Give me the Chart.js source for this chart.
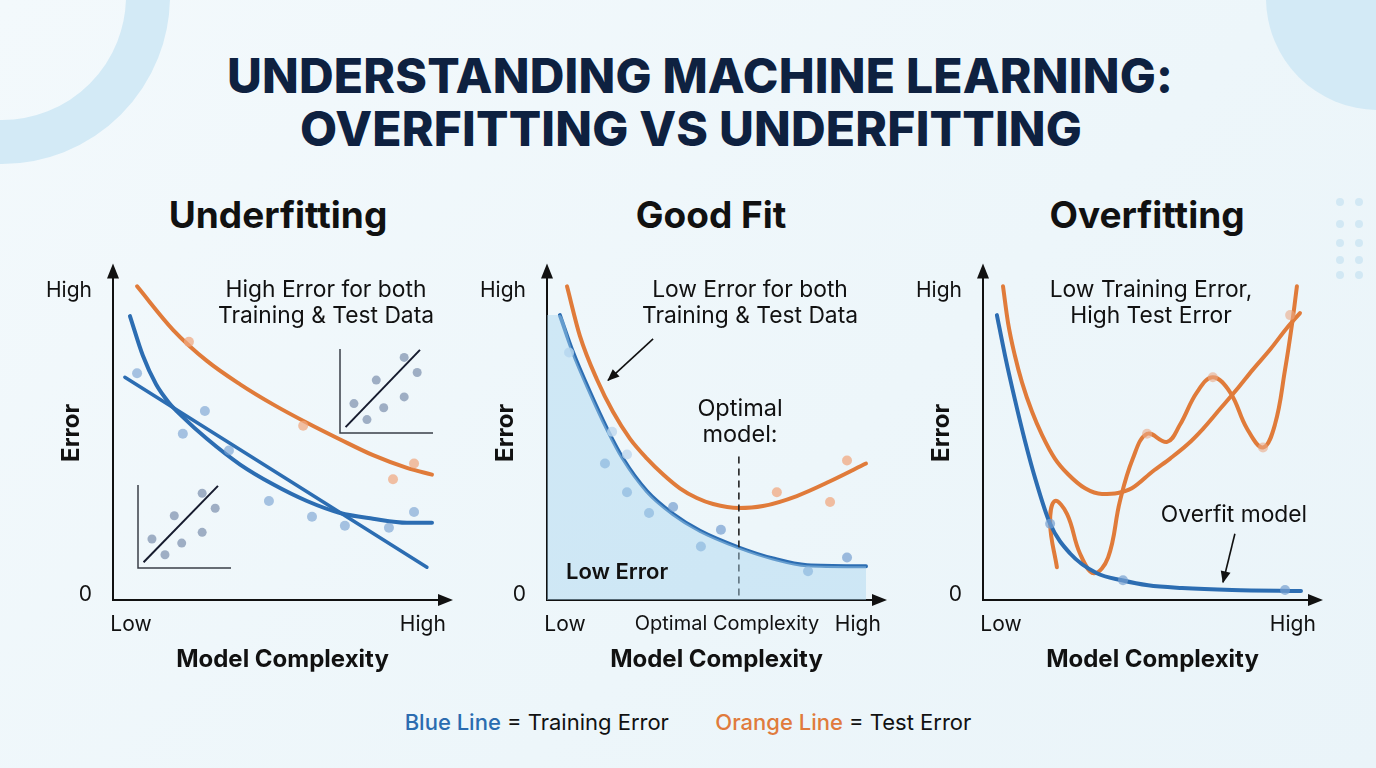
<!DOCTYPE html>
<html>
<head>
<meta charset="utf-8">
<script src="https://cdn.jsdelivr.net/npm/chart.js@4.4.1/dist/chart.umd.min.js"></script>
<style>
  html, body { margin:0; padding:0; }
  body { width:1376px; height:768px; position:relative; overflow:hidden;
         background: linear-gradient(135deg, #f3f9fc 0%, #edf6fa 60%, #eaf4f9 100%);
         font-family: Inter, "Noto Sans", sans-serif; color:#111; }
  .abs { position:absolute; }
  .t { position:absolute; transform:translate(-50%,-50%); white-space:nowrap; text-align:center; }
  .ring { position:absolute; left:-166px; top:-172px; width:336px; height:336px; border-radius:50%;
          border:44px solid #d3eaf6; box-sizing:border-box; }
  .blob { position:absolute; left:1266px; top:-114px; width:224px; height:224px; border-radius:50%; background:#d3eaf6; }
  .dot { position:absolute; width:8px; height:8px; border-radius:50%; background:#d2e8f4; }
  .head { font-weight:800; font-size:48px; color:#0e2140; letter-spacing:0.2px; }
  .ptitle { font-weight:700; font-size:37px; color:#111; }
  .ann { font-size:22.8px; line-height:26px; color:#111; }
  canvas { position:absolute; }
</style>
</head>
<body>
<div class="ring"></div>
<div class="blob"></div>
<div id="dots"></div>

<div class="t head" style="left:700px; top:75px;">UNDERSTANDING MACHINE LEARNING:</div>
<div class="t head" style="left:691px; top:128px;">OVERFITTING VS UNDERFITTING</div>

<div class="t ptitle" style="left:278px; top:214px;">Underfitting</div>
<div class="t ptitle" style="left:711px; top:214px;">Good Fit</div>
<div class="t ptitle" style="left:1147px; top:214px;">Overfitting</div>

<canvas id="c1" width="430" height="450" style="left:40px; top:240px;"></canvas>
<canvas id="c2" width="430" height="450" style="left:474px; top:240px;"></canvas>
<canvas id="c3" width="430" height="450" style="left:910px; top:240px;"></canvas>
<canvas id="i1" width="105" height="95" style="left:132px; top:479px;"></canvas>
<canvas id="i2" width="105" height="96" style="left:334px; top:343px;"></canvas>

<div class="t ann" style="left:326px; top:302px;">High Error for both<br>Training &amp; Test Data</div>
<div class="t ann" style="left:750px; top:302px;">Low Error for both<br>Training &amp; Test Data</div>
<div class="t ann" style="left:740px; top:421px; font-size:23.5px; line-height:26px;">Optimal<br>model:</div>
<div class="abs" style="left:566px; top:558px; font-size:22px; font-weight:600;">Low Error</div>
<div class="t ann" style="left:1151px; top:302px;">Low Training Error,<br>High Test Error</div>
<div class="t ann" style="left:1234px; top:514px;">Overfit model</div>

<div class="t" style="left:688px; top:722px; font-size:22px;">
  <span style="color:#2b6cb0; font-weight:500;">Blue Line</span> = Training Error
  <span style="display:inline-block; width:34px;"></span>
  <span style="color:#e07b3c; font-weight:500;">Orange Line</span> = Test Error
</div>

<script>
// ---------- shared axis ticks ----------
const yTickValues = [0.15, 9.26];
const yTickLabels = ['0', 'High'];
const xTickValues = [0.53, 9.14];
const xTickLabels = ['Low', 'High'];
const goodXTickValues = [0.53, 9.17, 5.31];
const goodXTickLabels = ['Low', 'High', 'Optimal Complexity'];

// ---------- Panel 1: Underfitting ----------
const underTestX  = [0.71, 1.77, 2.77, 3.75, 4.72, 5.72, 6.70, 7.67, 8.67, 9.41];
const underTestY  = [9.38, 8.08, 7.15, 6.45, 5.85, 5.30, 4.80, 4.33, 3.95, 3.75];
const underTrainX = [0.50, 0.88, 1.27, 1.65, 2.00, 2.77, 3.75, 4.72, 5.72, 6.70, 7.67, 8.67, 9.41];
const underTrainY = [8.49, 7.31, 6.45, 5.90, 5.53, 4.82, 4.05, 3.46, 2.96, 2.60, 2.43, 2.31, 2.31];
const underLinearX = [0.35, 9.26];
const underLinearY = [6.66, 0.98];
const underTrainDotsX = [0.71, 2.06, 2.71, 3.42, 4.60, 5.87, 6.84, 8.14, 8.88];
const underTrainDotsY = [6.78, 4.97, 5.65, 4.47, 2.96, 2.49, 2.22, 2.16, 2.63];
const underTestDotsX = [2.24, 5.61, 8.88, 8.26];
const underTestDotsY = [7.72, 5.21, 4.08, 3.61];

// ---------- Inset scatter plots ----------
const insetDotsX = [1.5, 2.9, 3.9, 4.7, 6.9, 6.9, 8.3];
const insetDotsY = [3.5, 1.6, 6.3, 3.0, 9.0, 4.3, 7.2];
const insetLineX = [0.6, 8.6];
const insetLineY = [0.7, 9.9];

// ---------- Panel 2: Good fit ----------
const goodTestX  = [0.59, 0.97, 1.47, 1.95, 2.45, 2.95, 3.42, 3.92, 4.42, 4.90, 5.66, 6.37, 7.37, 8.35, 9.41];
const goodTestY  = [9.38, 7.90, 6.60, 5.62, 4.82, 4.23, 3.76, 3.34, 3.05, 2.87, 2.75, 2.81, 3.11, 3.55, 4.08];
const goodTrainX = [0.38, 0.77, 1.27, 1.77, 2.24, 2.95, 3.72, 4.51, 5.66, 6.67, 7.67, 9.41];
const goodTrainY = [8.52, 7.40, 6.21, 5.12, 4.23, 3.25, 2.57, 2.07, 1.57, 1.24, 1.04, 1.01];
const goodTrainDotsX = [1.71, 2.36, 3.01, 3.72, 4.54, 5.13, 7.70, 8.85];
const goodTrainDotsY = [4.08, 3.22, 2.60, 2.78, 1.60, 2.10, 0.86, 1.27];
const goodFaintDotsX = [0.65, 1.92, 2.36];
const goodFaintDotsY = [7.40, 5.03, 4.35];
const goodTestDotsX = [6.78, 8.35, 8.85];
const goodTestDotsY = [3.22, 2.93, 4.17];
const optimalX = [5.66, 5.66];
const optimalY = [4.29, 0];
const goodArrowX = [3.13, 1.80];
const goodArrowY = [7.81, 6.57];

// ---------- Panel 3: Overfitting ----------
const overTrainX = [0.41, 0.65, 0.94, 1.24, 1.55, 1.98, 2.57, 3.36, 4.10, 4.87, 5.87, 7.35, 9.38];
const overTrainY = [8.52, 7.31, 6.00, 4.75, 3.60, 2.28, 1.39, 0.80, 0.59, 0.44, 0.36, 0.30, 0.27];
const overTestX = [0.59, 0.74, 0.94, 1.15, 1.45, 1.74, 2.12, 2.51, 3.01, 3.51, 3.98, 4.39, 5.01, 5.52, 6.02, 6.49, 6.99, 7.49, 7.96, 8.47, 8.97, 9.35];
const overTestY = [9.38, 8.28, 7.31, 6.51, 5.62, 4.94, 4.23, 3.76, 3.34, 3.17, 3.20, 3.34, 3.85, 4.23, 4.64, 5.12, 5.71, 6.30, 6.89, 7.49, 8.14, 8.58];
const overFitX = [2.18, 1.98, 2.12, 2.48, 2.86, 3.27, 3.69, 4.04, 4.42, 4.84, 5.43, 5.81, 6.31, 6.78, 7.29, 7.79, 8.26, 8.61, 8.91, 9.12, 9.26];
const overFitY = [0.98, 2.28, 2.96, 2.57, 1.39, 0.80, 1.27, 2.96, 4.23, 4.97, 4.73, 5.24, 6.21, 6.66, 6.21, 5.12, 4.56, 5.24, 6.89, 8.28, 9.38];
const overTrainDotsX = [1.98, 4.13, 8.91];
const overTrainDotsY = [2.28, 0.59, 0.30];
const overTestDotsX = [4.84, 6.78, 8.26, 9.06];
const overTestDotsY = [4.97, 6.66, 4.56, 8.52];
const overArrowX = [7.43, 7.08];
const overArrowY = [1.98, 0.53];

// ---------- styles ----------
const BLUE = '#2c6db2';
const ORANGE = '#e07b3a';
const FONT = 'Inter';

const pts = (xs, ys) => xs.map((x, i) => ({x, y: ys[i]}));

// decorative dots
(function(){
  const cols = [1336, 1355], rows = [198, 220, 239, 256, 271];
  const host = document.getElementById('dots');
  rows.forEach(r => cols.forEach(c => {
    const d = document.createElement('div'); d.className = 'dot';
    d.style.left = c + 'px'; d.style.top = r + 'px'; host.appendChild(d);
  }));
})();

function curve(xs, ys, color, width) {
  return { data: pts(xs, ys), showLine: true, borderColor: color, borderWidth: width,
           pointRadius: 0, cubicInterpolationMode: 'monotone', fill: false, clip: false,
           borderCapStyle: 'round', borderJoinStyle: 'round' };
}
function wiggle(xs, ys, color, width) {
  return { data: pts(xs, ys), showLine: true, borderColor: color, borderWidth: width,
           pointRadius: 0, tension: 0.4, fill: false, clip: false,
           borderCapStyle: 'round', borderJoinStyle: 'round' };
}
function dots(xs, ys, color, r) {
  return { data: pts(xs, ys), showLine: false, pointRadius: r || 5, pointBackgroundColor: color,
           pointBorderWidth: 0, clip: false };
}
function arrowLine(xs, ys) {
  return { data: pts(xs, ys), showLine: true, borderColor: '#111', borderWidth: 1.6, pointRadius: 0,
           tension: 0, arrowHead: true, clip: false };
}

const axesPlugin = {
  id: 'axesArrows',
  beforeDatasetsDraw(chart) {
    const {ctx, chartArea: a} = chart;
    ctx.save();
    ctx.strokeStyle = '#111'; ctx.fillStyle = '#111'; ctx.lineWidth = 2;
    ctx.beginPath();
    ctx.moveTo(a.left, a.top + 10); ctx.lineTo(a.left, a.bottom); ctx.lineTo(a.right - 10, a.bottom);
    ctx.stroke();
    ctx.beginPath();
    ctx.moveTo(a.left, a.top - 2); ctx.lineTo(a.left - 6, a.top + 13); ctx.lineTo(a.left + 6, a.top + 13);
    ctx.closePath(); ctx.fill();
    ctx.beginPath();
    ctx.moveTo(a.right + 1, a.bottom); ctx.lineTo(a.right - 14, a.bottom - 6); ctx.lineTo(a.right - 14, a.bottom + 6);
    ctx.closePath(); ctx.fill();
    ctx.restore();
  },
  afterDatasetsDraw(chart) {
    const {ctx} = chart;
    chart.data.datasets.forEach((ds, i) => {
      if (!ds.arrowHead) return;
      const m = chart.getDatasetMeta(i).data;
      const p1 = m[m.length - 2], p2 = m[m.length - 1];
      const ang = Math.atan2(p2.y - p1.y, p2.x - p1.x);
      ctx.save();
      ctx.fillStyle = '#111';
      ctx.translate(p2.x, p2.y); ctx.rotate(ang);
      ctx.beginPath(); ctx.moveTo(1, 0); ctx.lineTo(-11, -5); ctx.lineTo(-11, 5); ctx.closePath(); ctx.fill();
      ctx.restore();
    });
  }
};

const insetAxes = {
  id: 'insetAxes',
  beforeDatasetsDraw(chart) {
    const {ctx, chartArea: a} = chart;
    ctx.save(); ctx.strokeStyle = '#3a3f48'; ctx.lineWidth = 1.5;
    ctx.beginPath(); ctx.moveTo(a.left, a.top); ctx.lineTo(a.left, a.bottom); ctx.lineTo(a.right, a.bottom); ctx.stroke();
    ctx.restore();
  }
};

function mainChart(id, datasets, xv, xl) {
  return new Chart(document.getElementById(id), {
    type: 'scatter',
    data: { datasets },
    plugins: [axesPlugin],
    options: {
      responsive: false, animation: false, devicePixelRatio: 1,
      layout: { padding: { left: 0, top: 22, right: 18, bottom: 0 } },
      plugins: { legend: { display: false }, tooltip: { enabled: false } },
      scales: {
        x: {
          type: 'linear', min: 0, max: 10,
          afterFit(s) { s.height = 90; },
          afterBuildTicks(s) { s.ticks = xv.map(v => ({ value: v })); },
          grid: { display: false }, border: { display: false },
          ticks: {
            autoSkip: false, maxRotation: 0, padding: 4, color: '#111',
            callback: (v, i) => xl[i],
            font: (c) => (c.index === 2 ? { family: FONT, size: 20 } : { family: FONT, size: 21 })
          },
          title: { display: true, text: 'Model Complexity', color: '#111',
                   font: { family: FONT, size: 24, weight: 'bold' }, padding: { top: 0, bottom: 15.5 } }
        },
        y: {
          type: 'linear', min: 0, max: 10,
          afterFit(s) { s.width = 73; },
          afterBuildTicks(s) { s.ticks = yTickValues.map(v => ({ value: v })); },
          grid: { display: false }, border: { display: false },
          ticks: { autoSkip: false, padding: 13, color: '#111', callback: (v, i) => yTickLabels[i],
                   font: { family: FONT, size: 21 } },
          title: { display: true, text: 'Error', color: '#111',
                   font: { family: FONT, size: 24, weight: 'bold' }, padding: { top: 17.5, bottom: 0 } }
        }
      }
    }
  });
}

function insetChart(id) {
  return new Chart(document.getElementById(id), {
    type: 'scatter',
    data: { datasets: [
      dots(insetDotsX, insetDotsY, '#9eaec4', 4.5),
      { data: pts(insetLineX, insetLineY), showLine: true, borderColor: '#161b2e', borderWidth: 2, pointRadius: 0, clip: false }
    ] },
    plugins: [insetAxes],
    options: {
      responsive: false, animation: false, devicePixelRatio: 1,
      layout: { padding: 6 },
      plugins: { legend: { display: false }, tooltip: { enabled: false } },
      scales: { x: { display: false, min: 0, max: 10 }, y: { display: false, min: 0, max: 10 } }
    }
  });
}

mainChart('c1', [
  dots(underTrainDotsX, underTrainDotsY, 'rgba(118,160,208,0.62)'),
  dots(underTestDotsX, underTestDotsY, 'rgba(240,168,128,0.72)'),
  curve(underTestX, underTestY, ORANGE, 4),
  curve(underTrainX, underTrainY, BLUE, 4),
  curve(underLinearX, underLinearY, BLUE, 3.5)
], xTickValues, xTickLabels);

mainChart('c2', [
  { data: pts([0].concat(goodTrainX), [goodTrainY[0]].concat(goodTrainY)), showLine: true, borderWidth: 0,
    pointRadius: 0, cubicInterpolationMode: 'monotone', fill: 'origin', backgroundColor: 'rgba(168,212,240,0.45)' },
  dots(goodFaintDotsX, goodFaintDotsY, 'rgba(190,215,238,0.8)'),
  dots(goodTrainDotsX, goodTrainDotsY, 'rgba(118,160,208,0.7)'),
  dots(goodTestDotsX, goodTestDotsY, 'rgba(240,168,128,0.75)'),
  { data: pts(optimalX, optimalY), showLine: true, borderColor: '#222', borderWidth: 1.6, borderDash: [7, 5], pointRadius: 0 },
  curve(goodTestX, goodTestY, ORANGE, 4),
  curve(goodTrainX, goodTrainY, BLUE, 4),
  arrowLine(goodArrowX, goodArrowY)
], goodXTickValues, goodXTickLabels);

mainChart('c3', [
  dots(overTrainDotsX, overTrainDotsY, 'rgba(118,160,208,0.7)'),
  dots(overTestDotsX, overTestDotsY, 'rgba(235,170,135,0.6)'),
  curve(overTrainX, overTrainY, BLUE, 4),
  curve(overTestX, overTestY, ORANGE, 4),
  wiggle(overFitX, overFitY, ORANGE, 4),
  arrowLine(overArrowX, overArrowY)
], xTickValues, xTickLabels);

insetChart('i1');
insetChart('i2');
</script>
</body>
</html>
